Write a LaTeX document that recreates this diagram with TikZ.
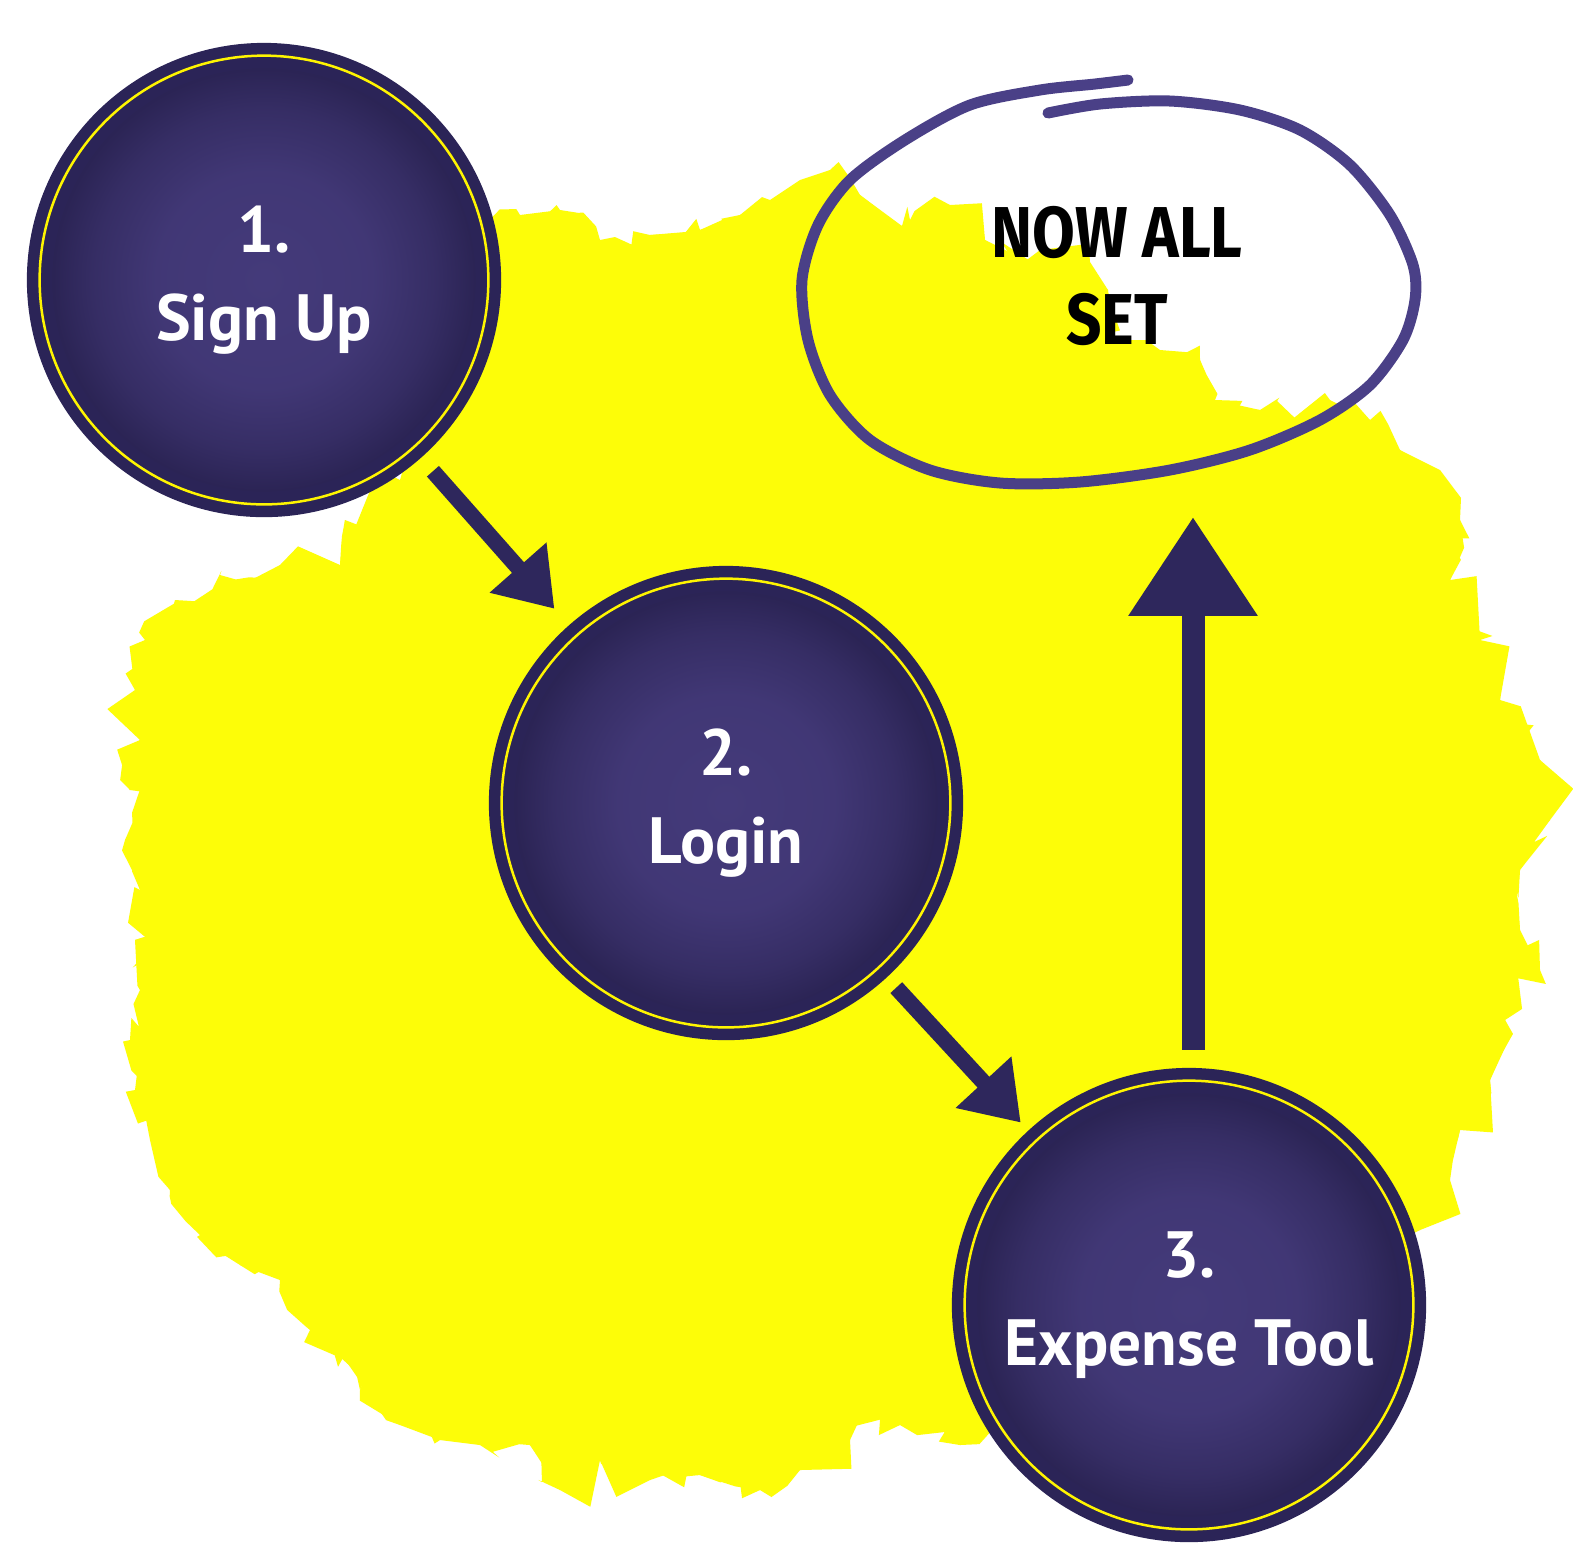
\documentclass[tikz,border=0pt]{standalone}
\usepackage{fontspec}
\setmainfont{PT Sans}
\newfontfamily\goalfont{Fira Sans}[FakeStretch=0.86]
\usetikzlibrary{arrows.meta,decorations.pathmorphing}
\definecolor{splash}{HTML}{FDFD08}
\definecolor{orbin}{HTML}{443A7A}
\definecolor{orbout}{HTML}{2A2353}
\definecolor{orbrim}{HTML}{2B2457}
\definecolor{rimline}{HTML}{FFF500}
\definecolor{arrowfill}{HTML}{2E275C}
\definecolor{sketchline}{HTML}{4A4087}
\pgfdeclareradialshading{orbglow}{\pgfpointorigin}{color(0bp)=(orbin); color(12bp)=(orbin!88!orbout); color(19bp)=(orbin!45!orbout); color(24bp)=(orbout); color(50bp)=(orbout)}

\begin{document}
\begin{tikzpicture}[x=0.01cm,y=-0.01cm,
  orb/.style={circle,minimum size=4.485cm,inner sep=0pt,outer sep=0.1275cm,shade,shading=orbglow,draw=orbrim,double=rimline,double distance=0.025cm,line width=0.115cm,text=white,align=center,font=\bfseries\fontsize{18.6}{25}\selectfont},
  goal/.style={minimum width=6.1cm,minimum height=4.1cm,inner sep=0pt,align=center,font=\goalfont\bfseries\fontsize{20.5}{25}\selectfont},
  sketchring/.style={draw=sketchline,line width=0.11cm,line cap=round,line join=round},
  blob/.style={splash,decorate,decoration={random steps,segment length=#1,amplitude=#1}},
  flowarrow/.style={draw=arrowfill,line width=0.16cm,-{Triangle[length=0.55cm,width=0.72cm]},shorten <=0.18cm,shorten >=0.22cm},
  uparrow/.style={draw=arrowfill,line width=0.23cm,-{Triangle[length=0.99cm,width=1.23cm]},shorten <=0.18cm,shorten >=0.35cm}]
	\useasboundingbox (0,0) rectangle (1573,1565);
	\fill[white] (0,0) rectangle (1573,1565);
	\pgfmathsetseed{7}
	\foreach \jag in {9pt,4pt}
	\fill[blob=\jag]
		(480,230) -- (520,215) -- (560,210) -- (600,240) -- (650,235) -- (700,230)
		-- (740,215) -- (770,200) -- (800,180) -- (830,170) -- (860,195) -- (880,240)
		-- (910,220) -- (950,205) -- (985,240) -- (1040,250) -- (1090,262) -- (1108,290)
		-- (1110,340) -- (1160,350) -- (1200,360) -- (1215,400) -- (1260,410) -- (1330,400)
		-- (1370,420) -- (1400,450) -- (1440,470) -- (1460,520) -- (1450,580) -- (1480,640)
		-- (1500,700) -- (1540,760) -- (1550,820) -- (1520,870) -- (1520,930) -- (1540,970)
		-- (1505,1020) -- (1490,1080) -- (1460,1130) -- (1450,1180) -- (1420,1230) -- (1300,1300)
		-- (1000,1420) -- (960,1445) -- (900,1425) -- (850,1440) -- (800,1470) -- (760,1490)
		-- (700,1475) -- (650,1480) -- (600,1460) -- (560,1490) -- (530,1445) -- (480,1445)
		-- (440,1440) -- (400,1425) -- (360,1390) -- (310,1330) -- (280,1280) -- (240,1265)
		-- (200,1235) -- (170,1190) -- (150,1140) -- (135,1090) -- (130,1040) -- (140,990)
		-- (135,940) -- (140,890) -- (125,840) -- (130,790) -- (140,740) -- (135,690)
		-- (145,640) -- (175,600) -- (220,575) -- (280,565) -- (340,565) -- (345,520)
		-- (400,480) -- (480,300) -- cycle;
	\draw[sketchring] plot[smooth] coordinates {(1048,113) (1100,104) (1170,101) (1240,110) (1300,130)
		(1350,165) (1390,215) (1413,265) (1415,300) (1403,340) (1370,385) (1320,420) (1250,450)
		(1170,470) (1080,482) (1000,483) (930,470) (870,440) (830,395) (808,340) (802,280)
		(818,225) (850,180) (905,140) (970,105) (1040,90) (1095,84) (1128,80)};
	\node[goal] (allset) at (1117,276) {NOW ALL\\SET};
	\node[orb] (signup) at (264,280) {1.\\Sign Up};
	\node[orb] (login) at (726,803) {2.\\Login};
	\node[orb] (expense) at (1189,1305) {3.\\Expense Tool};
	\draw[flowarrow] (signup) -- (login);
	\draw[flowarrow,shorten <=0.14cm,shorten >=0.11cm] (login) -- (expense);
	\draw[uparrow] ([xshift=0.04cm]expense.north) -- ([xshift=0.04cm]expense.north |- allset.south);
\end{tikzpicture}
\end{document}
